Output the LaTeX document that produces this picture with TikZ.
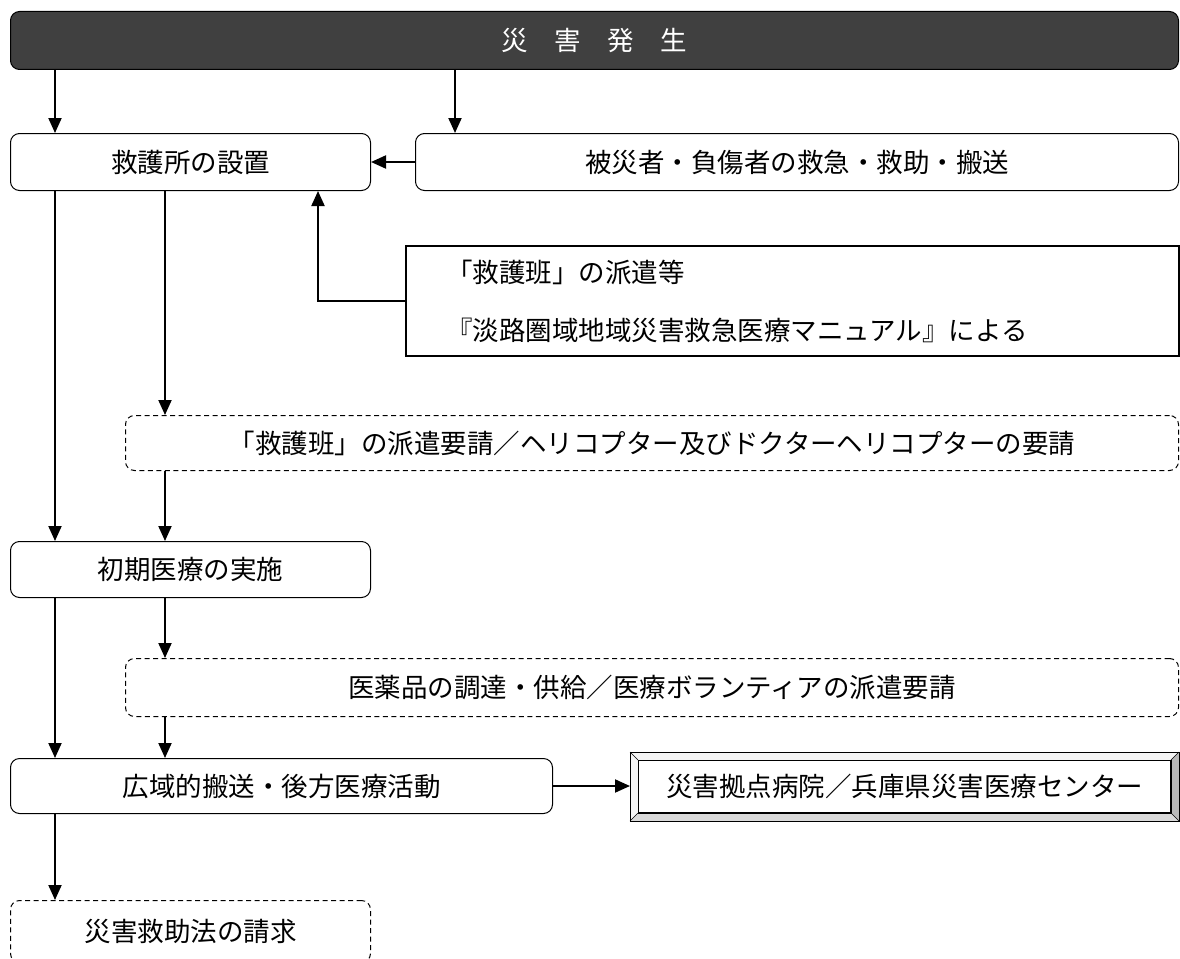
\documentclass[tikz,border=0pt]{standalone}
\usepackage{fontspec}
\setmainfont{Noto Sans CJK JP}
\usetikzlibrary{arrows.meta,calc}

\definecolor{bardark}{HTML}{404040}
\tikzset{
    box/.style={draw, rounded corners=9pt, line width=1pt, anchor=north west, inner sep=0pt, font=\fontsize{26.5}{30}\selectfont},
    dbox/.style={box, dash pattern=on 5pt off 3.5pt},
    arr/.style={line width=2pt, -{Triangle[length=15pt,width=13pt]}},
}

\begin{document}
\begin{tikzpicture}[x=1pt, y=-1pt]
    \clip (0,0) rectangle (1180,958);
    \fill[white] (0,0) rectangle (1180,958);
    % 列の位置
    \coordinate (colA) at (55,0);
    \coordinate (colB) at (165,0);
    \coordinate (colC) at (455,0);
    \coordinate (colD) at (318,0);
    % 箱
    \node[box, fill=bardark, text=white, minimum width=1168pt, minimum height=58pt] (hassei) at (10,11) {災　害　発　生};
    \node[box, minimum width=360pt, minimum height=57pt] (kyugo) at (10,133) {救護所の設置};
    \node[box, minimum width=763pt, minimum height=57pt] (hikai) at (415,133) {被災者・負傷者の救急・救助・搬送};
    \node[box, rounded corners=0pt, line width=2.2pt, minimum width=773pt, minimum height=110pt,
          inner xsep=40pt, text width=693pt, align=left, font=\fontsize{26.5}{58}\selectfont] (haken) at (405,245)
          {「救護班」の派遣等\\『淡路圏域地域災害救急医療マニュアル』による};
    \node[dbox, minimum width=1053pt, minimum height=55pt] (yosei1) at (125,415) {「救護班」の派遣要請／ヘリコプター及びドクターヘリコプターの要請};
    \node[box, minimum width=360pt, minimum height=56pt] (shoki) at (10,541) {初期医療の実施};
    \node[dbox, minimum width=1053pt, minimum height=58pt] (yosei2) at (125,658) {医薬品の調達・供給／医療ボランティアの派遣要請};
    \node[box, minimum width=542pt, minimum height=55pt] (kouiki) at (10,758) {広域的搬送・後方医療活動};
    \node[box, rounded corners=0pt, minimum width=532pt, minimum height=52pt, fill=white] (kyoten) at (638,760) {災害拠点病院／兵庫県災害医療センター};
    \node[dbox, minimum width=360pt, minimum height=62pt] (seikyu) at (10,900) {災害救助法の請求};
    % 縁取り(立体枠)
    \coordinate (oA) at ($(kyoten.north west)+(-8,-8)$);
    \coordinate (oB) at ($(kyoten.north east)+(8,-8)$);
    \coordinate (oC) at ($(kyoten.south east)+(8,8)$);
    \coordinate (oD) at ($(kyoten.south west)+(-8,8)$);
    \fill[gray!8] (oA) -- (oB) -- (kyoten.north east) -- (kyoten.north west) -- cycle;
    \fill[gray!8] (oA) -- (kyoten.north west) -- (kyoten.south west) -- (oD) -- cycle;
    \fill[gray!55] (oB) -- (oC) -- (kyoten.south east) -- (kyoten.north east) -- cycle;
    \fill[gray!30] (oD) -- (kyoten.south west) -- (kyoten.south east) -- (oC) -- cycle;
    \draw[line width=1pt] (oA) rectangle (oC);
    \draw[line width=0.6pt] (oA) -- (kyoten.north west) (oB) -- (kyoten.north east)
        (oC) -- (kyoten.south east) (oD) -- (kyoten.south west);
    \draw[line width=1pt] (kyoten.north west) rectangle (kyoten.south east);
    % 矢印
    \draw[arr] (hassei.south -| colA) -- (kyugo.north -| colA);
    \draw[arr] (hassei.south -| colC) -- (hikai.north -| colC);
    \draw[arr] (hikai.west) -- (kyugo.east);
    \draw[arr] (haken.west) -| (kyugo.south -| colD);
    \draw[arr] (kyugo.south -| colB) -- (yosei1.north -| colB);
    \draw[arr] (kyugo.south -| colA) -- (shoki.north -| colA);
    \draw[arr] (yosei1.south -| colB) -- (shoki.north -| colB);
    \draw[arr] (shoki.south -| colA) -- (kouiki.north -| colA);
    \draw[arr] (shoki.south -| colB) -- (yosei2.north -| colB);
    \draw[arr] (yosei2.south -| colB) -- (kouiki.north -| colB);
    \draw[arr] (kouiki.east) -- (oA |- kouiki.east);
    \draw[arr] (kouiki.south -| colA) -- (seikyu.north -| colA);
\end{tikzpicture}
\end{document}
